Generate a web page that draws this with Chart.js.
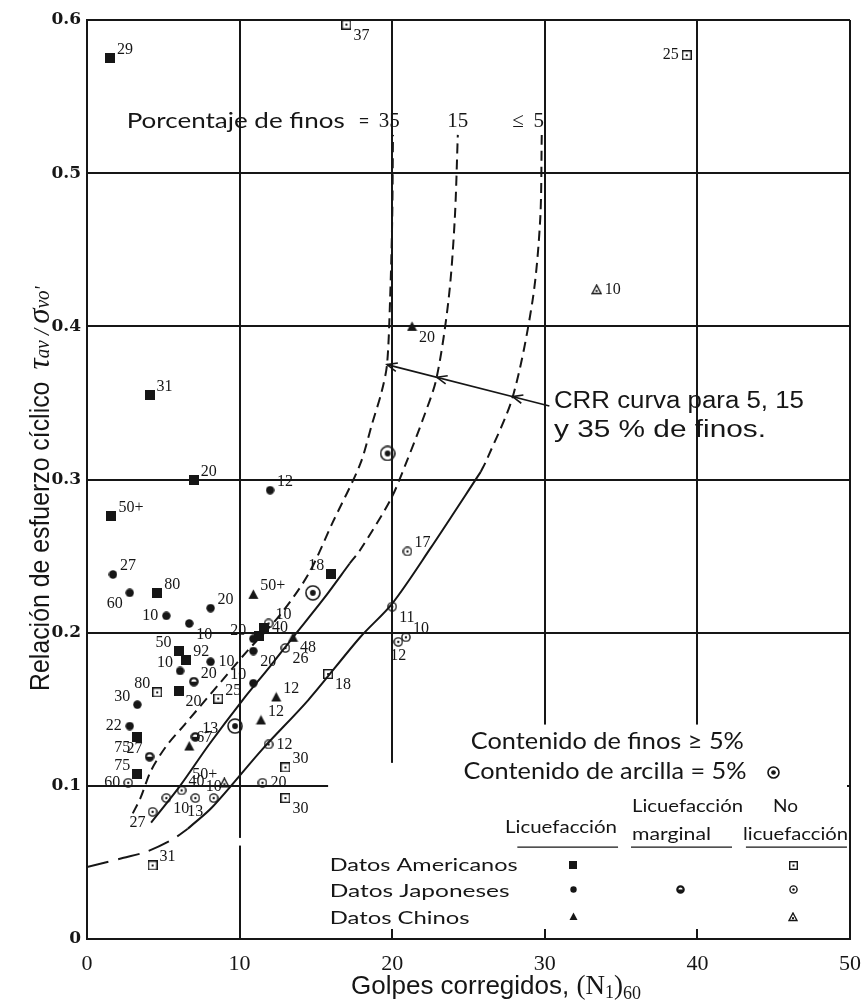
<!doctype html>
<html lang="es">
<head>
<meta charset="utf-8">
<title>CRR vs golpes corregidos</title>
<script src="https://cdn.jsdelivr.net/npm/chart.js"></script>
<style>
    body { margin: 0; background: #fff; }
    #wrap { width: 867px; height: 1008px; position: relative; }
</style>
</head>
<body>
<div id="wrap"><canvas id="crrChart"></canvas></div>
<script>
// curvas CRR para 35, 15 y <=5 % de finos  [N1_60, CRR]
const crr35 = [[3.0,0.082],[3.5,0.092],[4.2,0.11],[5.2,0.126],[6.4,0.14],[8.7,0.167],[10.5,0.188],[12.6,0.211],[14.5,0.238],[16.1,0.272],[17.9,0.31],[18.7,0.337],[19.3,0.357],[19.66,0.375],[19.86,0.417],[20.0,0.47],[20.05,0.525]];
const crr15Solid = [[4.2,0.076],[6.1,0.10],[8.0,0.127],[10.2,0.156],[12.0,0.178],[13.5,0.197],[15.5,0.222],[17.2,0.245]];
const crr15Dash = [[17.2,0.245],[17.9,0.254],[19.9,0.287],[21.0,0.313],[22.0,0.339],[22.9,0.366],[23.7,0.418],[24.1,0.47],[24.3,0.525]];
const crr5Low = [[0,0.047],[2.4,0.053],[3.9,0.057],[5.6,0.065],[6.6,0.072]];
const crr5Solid = [[6.6,0.072],[8.2,0.086],[11.5,0.124],[14.5,0.156],[17.9,0.197],[20.0,0.219],[22.5,0.255],[25.8,0.305]];
const crr5High = [[25.8,0.305],[26.2,0.313],[27.9,0.354],[29.2,0.417],[29.7,0.47],[29.8,0.525]];

// datos americanos
const amLiq = [[1.5,0.575],[4.1,0.355],[7.0,0.30],[1.6,0.276],[4.6,0.226],[6.0,0.188],[6.5,0.182],[6.0,0.162],[3.3,0.132],[3.3,0.108],[16.0,0.238],[11.6,0.203],[11.3,0.198]];
const amLiqTxt = ['29','31','20','50+','80','50','92','20','75','75','18','40',''];
const amNo = [[17.0,0.597],[39.3,0.577],[4.6,0.161],[8.6,0.157],[15.8,0.173],[13.0,0.112],[13.0,0.092],[4.3,0.048]];
const amNoTxt = ['37','25','80','25','18','30','30','31'];

// datos japoneses
const jpLiq = [[1.7,0.238],[2.8,0.226],[8.1,0.216],[5.2,0.211],[6.7,0.206],[8.1,0.181],[6.1,0.175],[3.3,0.153],[2.8,0.139],[12.0,0.293],[10.9,0.196],[10.9,0.188],[10.9,0.167]];
const jpLiqTxt = ['27','60','20','10','10','10','10','30','22','12','20','20','10'];
const jpMarg = [[7.0,0.168],[7.1,0.132],[4.1,0.119]];
const jpMargTxt = ['20','13','27'];
const jpNo = [[2.7,0.102],[4.3,0.083],[5.2,0.092],[6.2,0.097],[7.1,0.092],[8.3,0.092],[11.5,0.102],[11.9,0.127],[11.9,0.206],[13.0,0.19],[21.0,0.253],[20.0,0.217],[20.9,0.197],[20.4,0.194]];
const jpNoTxt = ['60','27','10','40','13','10','20','12','10','26','17','11','10','12'];

// datos chinos
const chLiq = [[10.9,0.225],[13.5,0.197],[12.4,0.158],[11.4,0.143],[6.7,0.126],[21.3,0.40]];
const chLiqTxt = ['50+','48','12','12','67','20'];
const chNo = [[33.4,0.424],[9.0,0.102]];
const chNoTxt = ['10','50+'];

// contenido de arcilla = 5%
const clay = [[19.7,0.317],[14.8,0.226],[9.7,0.139]];

// donde va cada numero respecto al simbolo
const amLiqPos = ['ne','ne','ne','ne','ne','nw','ne','se','sw','nw','nw','e',''];
const amNoPos = ['se','w','nw','ne','se','ne','se','ne'];
const jpLiqPos = ['ne','sw','ne','w','se','e','nw','nw','w','ne','nw','se','nw'];
const jpMargPos = ['ne','ne','nw'];
const jpNoPos = ['w','sw','se','ne','s','n','e','e','ne','se','ne','se','ne','s'];
const chLiqPos = ['ne','se','ne','ne','ne','se'];
const chNoPos = ['e','nw'];

const ink = '#161616';

function marker(size, draw) {
    const c = document.createElement('canvas');
    c.width = size; c.height = size;
    const g = c.getContext('2d');
    g.fillStyle = ink; g.strokeStyle = ink;
    draw(g, size / 2, size);
    return c;
}
const mkSquare = s => marker(s, (g, h, n) => g.fillRect(0, 0, n, n));
const mkDisc = s => marker(s, (g, h) => { g.beginPath(); g.arc(h, h, h - 0.3, 0, Math.PI * 2); g.fill(); });
const mkTri = s => marker(s, (g, h, n) => { g.beginPath(); g.moveTo(h, 0.5); g.lineTo(n - 0.5, n - 1); g.lineTo(0.5, n - 1); g.closePath(); g.fill(); });
const mkBoxDot = s => marker(s, (g, h, n) => { g.lineWidth = 1.4; g.strokeRect(0.7, 0.7, n - 1.4, n - 1.4); g.fillRect(h - 1, h - 1, 2, 2); });
const mkRingDot = s => marker(s, (g, h) => { g.lineWidth = 1.4; g.beginPath(); g.arc(h, h, h - 0.9, 0, Math.PI * 2); g.stroke(); g.beginPath(); g.arc(h, h, 1.2, 0, Math.PI * 2); g.fill(); });
const mkTriDot = s => marker(s, (g, h, n) => { g.lineWidth = 1.4; g.beginPath(); g.moveTo(h, 1); g.lineTo(n - 1, n - 1.5); g.lineTo(1, n - 1.5); g.closePath(); g.stroke(); g.fillRect(h - 1, n * 0.62 - 1, 2, 2); });
const mkHalf = s => marker(s, (g, h) => { g.lineWidth = 2.2; g.beginPath(); g.arc(h, h, h - 1.3, 0, Math.PI * 2); g.stroke(); g.beginPath(); g.moveTo(h, h); g.arc(h, h, h - 1.3, 0, Math.PI); g.closePath(); g.fill(); });
const mkClay = s => marker(s, (g, h) => { g.lineWidth = 1.6; g.beginPath(); g.arc(h, h, h - 1, 0, Math.PI * 2); g.stroke(); g.beginPath(); g.arc(h, h, h * 0.36, 0, Math.PI * 2); g.fill(); });

function ptSet(pts, txt, pos, img) {
    return {
        data: pts.map(p => ({ x: p[0], y: p[1] })),
        pointStyle: img, pointRadius: 5, pointHoverRadius: 5,
        showLine: false, ptLabels: txt, ptLabelPos: pos, order: 1
    };
}
function crvSet(pts, dash) {
    return {
        data: pts.map(p => ({ x: p[0], y: p[1] })),
        showLine: true, borderColor: ink, borderWidth: 2, borderDash: dash,
        pointRadius: 0, tension: 0.3, fill: false, order: 2
    };
}

function fitText(ctx, t, x, y, w, align) {
    const m = ctx.measureText(t).width;
    ctx.save();
    ctx.translate(x, y);
    ctx.scale(w / m, 1);
    ctx.textAlign = align;
    ctx.fillText(t, 0, 0);
    ctx.restore();
}
function drawRuns(ctx, runs, cx, y) {
    let total = 0;
    runs.forEach(r => { ctx.font = r.font; r.w = ctx.measureText(r.t).width * (r.sx || 1); total += r.w; });
    let x = cx - total / 2;
    ctx.textAlign = 'left';
    ctx.textBaseline = 'alphabetic';
    runs.forEach(r => {
        ctx.font = r.font;
        ctx.save();
        ctx.translate(x, y + (r.dy || 0));
        ctx.scale(r.sx || 1, 1);
        ctx.fillText(r.t, 0, 0);
        ctx.restore();
        x += r.w;
    });
}

// tapa la reticula donde va la leyenda
const gridMask = {
    id: 'gridMask',
    beforeDatasetsDraw(chart) {
        const ctx = chart.ctx, X = v => chart.scales.x.getPixelForValue(v), Y = v => chart.scales.y.getPixelForValue(v);
        const right = X(50) - 3, bottom = Y(0) - 10;
        ctx.save();
        ctx.fillStyle = '#fff';
        ctx.fillRect(X(15.8), Y(0.104), right - X(15.8), bottom - Y(0.104));
        ctx.fillRect(X(20) - 2, Y(0.115), right - X(20) + 2, Y(0.104) - Y(0.115) + 1);
        ctx.fillRect(X(20) + 2, Y(0.14), right - X(20) - 2, Y(0.115) - Y(0.14) + 1);
        ctx.fillRect(X(10) - 3, Y(0.066), 6, Y(0.061) - Y(0.066));
        ctx.restore();
    }
};

const OFF = {
    ne: [7, -4, 'left', 'alphabetic'], e: [8, 0, 'left', 'middle'], se: [7, 3, 'left', 'top'],
    nw: [-7, -4, 'right', 'alphabetic'], w: [-8, 0, 'right', 'middle'], sw: [-7, 3, 'right', 'top'],
    n: [0, -7, 'center', 'alphabetic'], s: [0, 6, 'center', 'top']
};
const pointLabels = {
    id: 'pointLabels',
    afterDatasetsDraw(chart) {
        const ctx = chart.ctx;
        ctx.save();
        ctx.fillStyle = ink;
        ctx.font = '16px "Liberation Serif"';
        chart.data.datasets.forEach((ds, i) => {
            if (!ds.ptLabels) return;
            chart.getDatasetMeta(i).data.forEach((el, j) => {
                const t = ds.ptLabels[j];
                if (!t) return;
                const o = OFF[ds.ptLabelPos[j]];
                ctx.textAlign = o[2];
                ctx.textBaseline = o[3];
                ctx.fillText(t, el.x + o[0], el.y + o[1]);
            });
        });
        ctx.restore();
    }
};

const legendImgs = {
    clay: mkClay(13), sq: mkSquare(8), disc: mkDisc(7), tri: mkTri(9),
    half: mkHalf(9), boxDot: mkBoxDot(9), ringDot: mkRingDot(9), triDot: mkTriDot(10)
};

const annotations = {
    id: 'annotations',
    afterDraw(chart) {
        const ctx = chart.ctx, a = chart.chartArea;
        const X = v => chart.scales.x.getPixelForValue(v), Y = v => chart.scales.y.getPixelForValue(v);
        ctx.save();
        ctx.fillStyle = ink;
        ctx.strokeStyle = ink;
        ctx.textBaseline = 'middle';

        // porcentaje de finos
        ctx.font = '21px Lato';
        fitText(ctx, 'Porcentaje de finos', X(2.6), Y(0.534), 218, 'left');
        fitText(ctx, '=', X(18.15), Y(0.534), 11, 'center');
        ctx.font = '21px "Liberation Serif"';
        ctx.textAlign = 'center';
        ctx.fillText('35', X(19.8), Y(0.534));
        ctx.fillText('15', X(24.3), Y(0.534));
        ctx.fillText('\u2264', X(28.25), Y(0.534));
        ctx.fillText('5', X(29.6), Y(0.534));

        // CRR
        ctx.font = '23px "Liberation Sans"';
        fitText(ctx, 'CRR curva para 5, 15', X(30.6), Y(0.351), 250, 'left');
        fitText(ctx, 'y 35 % de finos.', X(30.6), Y(0.332), 212, 'left');

        // flecha a las tres curvas
        const x0 = X(30.3), y0 = Y(0.348), x1 = X(19.66), y1 = Y(0.375);
        ctx.lineWidth = 1.6;
        ctx.beginPath(); ctx.moveTo(x0, y0); ctx.lineTo(x1, y1); ctx.stroke();
        const ang = Math.atan2(y1 - y0, x1 - x0);
        [0.227, 0.693, 1].forEach(t => {
            const hx = x0 + (x1 - x0) * t, hy = y0 + (y1 - y0) * t;
            ctx.beginPath();
            ctx.moveTo(hx - 11 * Math.cos(ang - 0.4), hy - 11 * Math.sin(ang - 0.4));
            ctx.lineTo(hx, hy);
            ctx.lineTo(hx - 11 * Math.cos(ang + 0.4), hy - 11 * Math.sin(ang + 0.4));
            ctx.stroke();
        });

        // leyenda
        ctx.font = '23px Lato';
        fitText(ctx, 'Contenido de finos \u2265 5%', X(34.1), Y(0.129), 273, 'center');
        fitText(ctx, 'Contenido de arcilla = 5%', X(33.95), Y(0.109), 283, 'center');
        const img = (c, x, y) => ctx.drawImage(c, Math.round(X(x) - c.width / 2), Math.round(Y(y) - c.height / 2));
        img(legendImgs.clay, 45.0, 0.109);

        ctx.font = '17px Lato';
        fitText(ctx, 'Licuefacci\u00f3n', X(31.06), Y(0.0731), 112, 'center');
        fitText(ctx, 'Licuefacci\u00f3n', X(39.35), Y(0.0868), 111, 'center');
        fitText(ctx, 'marginal', X(38.3), Y(0.0679), 79, 'center');
        fitText(ctx, 'No', X(45.77), Y(0.0868), 25, 'center');
        fitText(ctx, 'licuefacci\u00f3n', X(46.43), Y(0.0679), 105, 'center');
        ctx.lineWidth = 1.3;
        [[28.2, 34.8], [35.65, 42.27], [43.18, 49.8]].forEach(u => {
            ctx.beginPath(); ctx.moveTo(X(u[0]), Y(0.06)); ctx.lineTo(X(u[1]), Y(0.06)); ctx.stroke();
        });
        fitText(ctx, 'Datos Americanos', X(15.9), Y(0.0483), 188, 'left');
        fitText(ctx, 'Datos Japoneses', X(15.9), Y(0.0313), 180, 'left');
        fitText(ctx, 'Datos Chinos', X(15.9), Y(0.0137), 140, 'left');
        img(legendImgs.sq, 31.85, 0.0483);
        img(legendImgs.disc, 31.85, 0.0326);
        img(legendImgs.tri, 31.85, 0.0144);
        img(legendImgs.half, 38.9, 0.0326);
        img(legendImgs.boxDot, 46.27, 0.0483);
        img(legendImgs.ringDot, 46.27, 0.0326);
        img(legendImgs.triDot, 46.27, 0.0144);

        // titulo eje x
        drawRuns(ctx, [
            { t: 'Golpes corregidos, ', font: '26px "Liberation Sans"' },
            { t: '(N', font: '27px "Liberation Serif"' },
            { t: '1', font: '18px "Liberation Serif"', dy: 4 },
            { t: ')', font: '27px "Liberation Serif"' },
            { t: '60', font: '18px "Liberation Serif"', dy: 5 }
        ], X(26.8), a.bottom + 55);

        // titulo eje y
        ctx.translate(40, Y(0.294));
        ctx.rotate(-Math.PI / 2);
        drawRuns(ctx, [
            { t: 'Relaci\u00f3n de esfuerzo c\u00edclico', font: '27px "Liberation Sans"', sx: 0.92 },
            { t: '  ', font: '22px "Liberation Sans"' },
            { t: '\u03c4', font: 'italic 31px "Liberation Serif"' },
            { t: 'av', font: 'italic 21px "Liberation Serif"', sx: 0.9 },
            { t: ' / ', font: 'italic 24px "Liberation Serif"', sx: 0.9 },
            { t: '\u03c3', font: 'italic 31px "Liberation Serif"' },
            { t: "vo'", font: 'italic 21px "Liberation Serif"', sx: 0.9 }
        ], 0, 9);
        ctx.restore();
    }
};

const crrChart = new Chart(document.getElementById('crrChart').getContext('2d'), {
    type: 'scatter',
    data: {
        datasets: [
            ptSet(clay, null, null, mkClay(16)),
            ptSet(amLiq, amLiqTxt, amLiqPos, mkSquare(10)),
            ptSet(jpLiq, jpLiqTxt, jpLiqPos, mkDisc(9)),
            ptSet(chLiq, chLiqTxt, chLiqPos, mkTri(11)),
            ptSet(jpMarg, jpMargTxt, jpMargPos, mkHalf(10)),
            ptSet(amNo, amNoTxt, amNoPos, mkBoxDot(10)),
            ptSet(jpNo, jpNoTxt, jpNoPos, mkRingDot(10)),
            ptSet(chNo, chNoTxt, chNoPos, mkTriDot(11)),
            crvSet(crr35, [10, 6]),
            crvSet(crr15Solid, []),
            crvSet(crr15Dash, [10, 6]),
            crvSet(crr5Low, [22, 10]),
            crvSet(crr5Solid, []),
            crvSet(crr5High, [10, 6])
        ]
    },
    options: {
        responsive: true,
        maintainAspectRatio: false,
        animation: false,
        events: [],
        layout: { padding: { top: 20, right: 17, left: 0, bottom: 0 } },
        plugins: { legend: { display: false }, tooltip: { enabled: false } },
        scales: {
            x: {
                type: 'linear', min: 0, max: 50,
                afterFit: s => { s.height = 69; s.paddingLeft = 0; s.paddingRight = 0; },
                ticks: { stepSize: 10, padding: 12, color: ink, font: { family: '"Liberation Serif"', size: 22 } },
                grid: { color: ink, lineWidth: 2, drawTicks: false },
                border: { color: ink, width: 2 }
            },
            y: {
                type: 'linear', min: 0, max: 0.6,
                afterFit: s => { s.width = 87; s.paddingTop = 0; s.paddingBottom = 0; },
                ticks: { stepSize: 0.1, padding: 6, color: ink, font: { family: '"DejaVu Serif"', size: 17, weight: 'bold' } },
                grid: { color: ink, lineWidth: 2, drawTicks: false },
                border: { color: ink, width: 2 }
            }
        }
    },
    plugins: [gridMask, pointLabels, annotations]
});
</script>
</body>
</html>
